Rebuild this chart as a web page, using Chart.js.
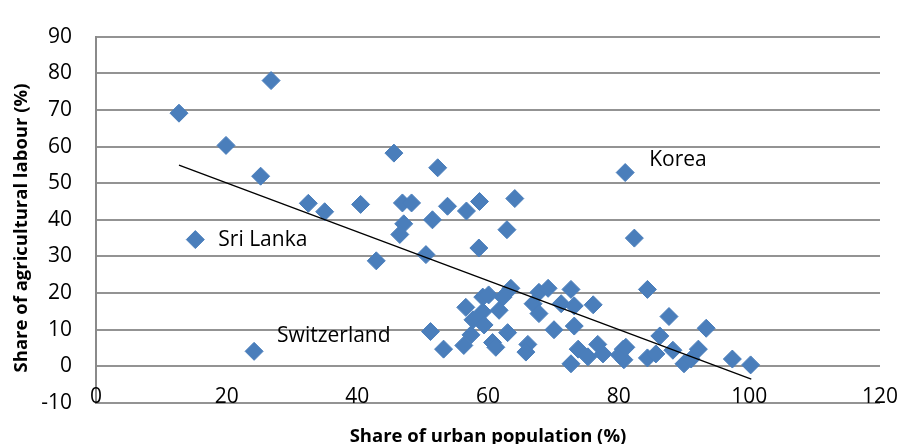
<!DOCTYPE html>
<html>
<head>
<meta charset="utf-8">
<script src="https://cdn.jsdelivr.net/npm/chart.js@4"></script>
<style>
  body { margin: 0; background: #fff; }
  .chart-box { width: 901px; height: 444px; }
</style>
</head>
<body>
<div class="chart-box"><canvas id="scatter"></canvas></div>
<script>
// share of urban population (%) / share of agricultural labour (%)
// first three are the named countries
var urbanShare = [15.2, 24.2, 81.0,
  12.7, 19.9, 26.8, 25.2, 32.5, 35.0, 40.5, 45.6, 42.9, 46.9, 48.3, 47.1, 46.5,
  52.3, 51.5, 53.8, 50.5, 56.7, 58.7, 64.1, 62.9, 58.6, 82.4, 84.4, 87.7, 93.4,
  97.4, 100.2,
  63.5, 59.2, 60.1, 62.3, 56.6, 61.7, 67.8, 69.2, 66.9, 67.8, 71.2, 72.7, 73.2,
  76.1, 57.7, 59.2, 59.4, 57.4, 51.2, 63.0, 70.1, 73.2, 53.2, 56.3, 60.7, 61.2,
  66.1, 65.8, 72.7, 73.8, 75.3, 76.8, 77.6, 80.7, 80.8, 80.1, 81.1, 84.4, 85.7,
  86.3, 88.3, 90.0, 91.1, 92.2];
var agriShare = [34.6, 4.1, 52.9,
  69.1, 60.3, 78.0, 51.9, 44.5, 42.2, 44.2, 58.2, 28.8, 44.6, 44.6, 38.9, 36.0,
  54.2, 40.0, 43.7, 30.5, 42.4, 45.0, 45.8, 37.3, 32.3, 35.0, 21.0, 13.6, 10.4,
  2.0, 0.4,
  21.3, 18.9, 19.5, 18.9, 16.1, 15.3, 20.2, 21.3, 17.1, 14.4, 17.1, 21.0, 16.5,
  16.8, 12.7, 14.9, 11.3, 8.6, 9.5, 9.2, 10.0, 11.0, 4.7, 5.7, 6.5, 5.2,
  6.0, 3.9, 0.7, 4.7, 2.6, 6.0, 3.4, 4.7, 1.8, 3.1, 5.2, 2.3, 3.4,
  8.3, 4.4, 0.7, 2.0, 4.7];
var labelNames = ["Sri Lanka", "Switzerland", "Korea"];
var labelIndex = [0, 1, 2];

// linear trend line ends
var trendX = [12.7, 100.3];
var trendY = [54.9, -3.5];

var xTicks = [0, 20, 40, 60, 80, 100, 120];
var yTicks = [-10, 0, 10, 20, 30, 40, 50, 60, 70, 80, 90];

var FONT = "'Open Sans', 'Noto Sans', sans-serif";

var points = urbanShare.map((x, i) => ({x: x, y: agriShare[i]}));
var trend = trendX.map((x, i) => ({x: x, y: trendY[i]}));

const extraText = {
  id: "extraText",
  afterDraw(chart) {
    const ctx = chart.ctx;
    const xs = chart.scales.x, ys = chart.scales.y;
    const offs = [[23, 0], [23, -15], [24, -13]];
    ctx.save();
    ctx.fillStyle = "#000";
    ctx.font = "21px " + FONT;
    ctx.textBaseline = "middle";
    ctx.textAlign = "left";
    labelIndex.forEach((idx, k) => {
      const px = xs.getPixelForValue(urbanShare[idx]);
      const py = ys.getPixelForValue(agriShare[idx]);
      ctx.fillText(labelNames[k], px + offs[k][0], py + offs[k][1]);
    });
    // x tick labels sit just above the -10 gridline, as in the original
    ctx.textAlign = "center";
    xTicks.forEach(v => {
      ctx.fillText(String(v), xs.getPixelForValue(v), chart.chartArea.bottom - 6);
    });
    // vertical axis title
    ctx.font = "bold 18.5px " + FONT;
    ctx.textBaseline = "alphabetic";
    ctx.translate(27, 228);
    ctx.rotate(-Math.PI / 2);
    ctx.fillText("Share of agricultural labour (%)", 0, 0);
    ctx.restore();
  }
};

new Chart(document.getElementById("scatter"), {
  type: "scatter",
  data: {
    datasets: [
      {
        label: "Countries",
        data: points,
        pointStyle: "rectRot",
        pointRadius: 9,
        pointHoverRadius: 9,
        backgroundColor: "#4a7ebb",
        borderColor: "#4a7ebb",
        borderWidth: 1,
        order: 2
      },
      {
        label: "Trend",
        type: "line",
        data: trend,
        borderColor: "#000",
        borderWidth: 1.3,
        pointRadius: 0,
        fill: false,
        order: 1
      }
    ]
  },
  options: {
    responsive: true,
    maintainAspectRatio: false,
    animation: false,
    layout: { padding: { top: 24, right: 21, left: 0, bottom: 0 } },
    plugins: {
      legend: { display: false },
      tooltip: { enabled: false }
    },
    scales: {
      x: {
        type: "linear",
        min: 0,
        max: 120,
        afterBuildTicks: s => { s.ticks = xTicks.map(v => ({value: v})); },
        afterFit: s => { s.height = 41; },
        grid: { display: false, drawTicks: false },
        border: { display: false },
        ticks: { display: false },
        title: {
          display: true,
          text: "Share of urban population (%)",
          color: "#000",
          font: { family: FONT, size: 18.5, weight: "bold", lineHeight: 1 },
          padding: { top: 0, bottom: -2 }
        }
      },
      y: {
        min: -10,
        max: 90,
        afterBuildTicks: s => { s.ticks = yTicks.map(v => ({value: v})); },
        afterFit: s => { s.width = 96; },
        grid: {
          color: "#939393",
          lineWidth: 2,
          drawTicks: false
        },
        border: { display: true, color: "#8a8a8a", width: 2 },
        ticks: {
          padding: 24,
          color: "#000",
          font: { family: FONT, size: 21 }
        }
      }
    }
  },
  plugins: [extraText]
});
</script>
</body>
</html>
